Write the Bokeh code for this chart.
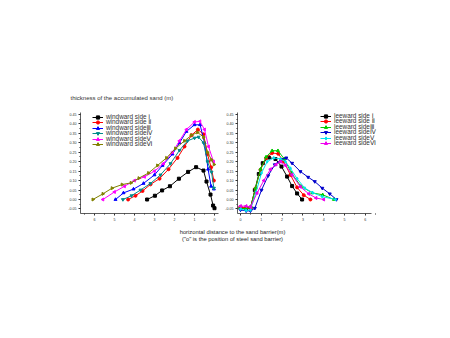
import math
from bokeh.plotting import figure
from bokeh.layouts import column, row
from bokeh.models import (Range1d, FixedTicker, PrintfTickFormatter, Legend, LegendItem, Title)
from bokeh.embed import file_html
from bokeh.resources import INLINE

FONT = "Liberation Sans"
LEG_FONT = "'Liberation Sans', 'DejaVu Sans'"

# ---------------- data ----------------
wind_labels = ["windward side \u2160", "windward side \u2161", "windward side\u2162",
               "windward side\u2163", "windward side\u2164", "windward side\u2165"]
w1_x = [3.37, 2.98, 2.62, 2.23, 1.78, 1.32, 0.92, 0.55, 0.40, 0.20, 0.07, 0.0]
w1_y = [0.0, 0.02, 0.048, 0.07, 0.11, 0.146, 0.171, 0.153, 0.095, 0.026, -0.032, -0.046]
w2_x = [4.32, 3.95, 3.6, 3.2, 2.75, 2.3, 1.85, 1.5, 1.15, 0.83, 0.55, 0.35, 0.17, 0.03]
w2_y = [0.0, 0.02, 0.045, 0.08, 0.11, 0.16, 0.22, 0.28, 0.34, 0.37, 0.345, 0.24, 0.17, 0.10]
w3_x = [4.95, 4.55, 4.05, 3.55, 3.0, 2.6, 2.1, 1.75, 1.4, 1.0, 0.72, 0.5, 0.32, 0.17, 0.03]
w3_y = [0.0, 0.035, 0.055, 0.085, 0.13, 0.18, 0.24, 0.30, 0.36, 0.395, 0.395, 0.30, 0.16, 0.07, 0.055]
w4_x = [4.58, 4.15, 3.7, 3.2, 2.7, 2.2, 1.75, 1.35, 1.0, 0.8, 0.55, 0.35, 0.15, 0.03]
w4_y = [0.0, 0.02, 0.05, 0.085, 0.13, 0.19, 0.26, 0.31, 0.325, 0.33, 0.30, 0.20, 0.145, 0.06]
w5_x = [5.58, 5.0, 4.5, 4.0, 3.5, 3.0, 2.55, 2.1, 1.75, 1.4, 1.0, 0.73, 0.5, 0.3, 0.05]
w5_y = [0.0, 0.04, 0.07, 0.10, 0.12, 0.15, 0.19, 0.25, 0.31, 0.37, 0.41, 0.413, 0.37, 0.28, 0.20]
w6_x = [6.08, 5.58, 5.12, 4.62, 4.17, 3.78, 3.3, 2.85, 2.4, 1.95, 1.5, 1.15, 0.85, 0.55, 0.35, 0.15, 0.02]
w6_y = [0.0, 0.03, 0.06, 0.079, 0.088, 0.113, 0.14, 0.18, 0.22, 0.27, 0.31, 0.34, 0.355, 0.33, 0.25, 0.21, 0.185]

lee_labels = ["leeward side \u2160", "leeward side \u2161", "leeward side\u2162",
              "leeward side\u2163", "leeward side\u2164", "leeward side\u2165"]
l1_x = [0, 0.27, 0.48, 0.69, 0.88, 1.07, 1.36, 1.68, 1.97, 2.24, 2.48, 2.72, 2.96]
l1_y = [-0.045, -0.048, -0.043, 0.05, 0.135, 0.192, 0.222, 0.214, 0.174, 0.121, 0.071, 0.032, 0.0]
l2_x = [0, 0.27, 0.48, 0.72, 0.96, 1.23, 1.52, 1.81, 2.08, 2.4, 2.72, 3.04, 3.36]
l2_y = [-0.04, -0.045, -0.045, 0.059, 0.157, 0.219, 0.246, 0.242, 0.201, 0.13, 0.064, 0.023, 0.0]
l3_x = [0, 0.25, 0.5, 0.72, 0.96, 1.23, 1.52, 1.8, 2.1, 2.45, 2.9, 3.45, 3.95, 4.49]
l3_y = [-0.045, -0.05, -0.04, 0.06, 0.16, 0.225, 0.258, 0.258, 0.215, 0.14, 0.07, 0.035, 0.025, 0.0]
l4_x = [0, 0.27, 0.48, 0.69, 1.01, 1.33, 1.65, 1.95, 2.2, 2.48, 2.88, 3.25, 3.57, 3.93, 4.29, 4.61]
l4_y = [-0.055, -0.06, -0.06, -0.046, 0.05, 0.126, 0.184, 0.212, 0.22, 0.192, 0.148, 0.118, 0.095, 0.06, 0.03, 0.0]
l5_x = [0, 0.27, 0.48, 0.75, 1.01, 1.28, 1.6, 1.92, 2.16, 2.4, 2.72, 3.09, 3.47, 3.93, 4.57]
l5_y = [-0.05, -0.058, -0.055, 0.04, 0.14, 0.2, 0.22, 0.215, 0.2, 0.165, 0.11, 0.06, 0.036, 0.015, 0.0]
l6_x = [0, 0.27, 0.48, 0.8, 1.12, 1.44, 1.71, 1.92, 2.16, 2.48, 2.88, 3.28, 3.63, 4.0]
l6_y = [-0.035, -0.035, -0.04, 0.035, 0.1, 0.16, 0.185, 0.2, 0.18, 0.13, 0.067, 0.03, 0.008, 0.0]

x_ticks = [0, 1, 2, 3, 4, 5, 6]
y_ticks = [-0.05, 0.0, 0.05, 0.10, 0.15, 0.20, 0.25, 0.30, 0.35, 0.40, 0.45]

title_text = "thickness of the accumulated sand (m)"
xlabel_1 = "horizontal distance to the sand barrier(m)"
xlabel_2 = "(\"o\" is the position of steel sand barrier)"

wind_series = [(w1_x, w1_y), (w2_x, w2_y), (w3_x, w3_y), (w4_x, w4_y), (w5_x, w5_y), (w6_x, w6_y)]
lee_series = [(l1_x, l1_y), (l2_x, l2_y), (l3_x, l3_y), (l4_x, l4_y), (l5_x, l5_y), (l6_x, l6_y)]

wind_colors = ["#000000", "#ff0000", "#0000ff", "#008b8b", "#ff00ff", "#808000"]
wind_markers = [("square", 0), ("circle", 0), ("triangle", 0), ("inverted_triangle", 0),
                ("triangle", math.pi / 2), ("triangle", -math.pi / 2)]
lee_colors = ["#000000", "#ff0000", "#00cc00", "#0000cc", "#00e5ee", "#ee00ee"]
lee_markers = [("square", 0), ("circle", 0), ("triangle", 0), ("inverted_triangle", 0),
               ("diamond", 0), ("triangle", math.pi / 2)]

Y0, Y1 = -0.074, 0.46
FRAME_H = 101        # frame height in px
ENTRY_H = 8          # legend entry height in px
ENTRY_STEP = 5.5     # distance between legend entries


def style_axes(p, xbounds):
    p.outline_line_color = None
    p.xgrid.visible = False
    p.ygrid.visible = False
    for ax in (p.xaxis[0], p.yaxis[0]):
        ax.axis_line_color = "#333333"
        ax.axis_line_width = 0.8
        ax.major_tick_in = 0
        ax.major_tick_out = 2
        ax.minor_tick_in = 0
        ax.minor_tick_out = 1
        ax.major_tick_line_color = "#333333"
        ax.minor_tick_line_color = "#333333"
        ax.major_label_text_font = FONT
        ax.major_label_text_font_size = "3.6px"
        ax.major_label_text_color = "#333333"
        ax.major_label_standoff = 2
    p.xaxis.bounds = xbounds
    p.xaxis.ticker = FixedTicker(ticks=x_ticks, minor_ticks=[t + 0.5 for t in range(-1, 7)])
    p.yaxis.ticker = FixedTicker(ticks=y_ticks,
                                 minor_ticks=[round(-0.075 + 0.025 * i, 3) for i in range(23)])
    p.yaxis.formatter = PrintfTickFormatter(format="%.2f")


def add_series(p, series, colors, markers, labels):
    items = []
    for (xs, ys), c, (m, ang), lab in zip(series, colors, markers, labels):
        r1 = p.line(xs, ys, line_color=c, line_width=1)
        r2 = p.scatter(xs, ys, marker=m, angle=ang, size=3, fill_color=c, line_color=c)
        items.append(LegendItem(label=lab, renderers=[r1, r2]))
    return items


def add_legend(p, items, x0, first_center):
    # one small legend per entry, so entries can sit closer than the text height
    for i, it in enumerate(items):
        center = first_center + i * ENTRY_STEP          # px below frame top
        ybottom = FRAME_H - center - ENTRY_H / 2
        lg = Legend(items=[it], location=(x0, ybottom))
        lg.label_text_font = LEG_FONT
        lg.label_text_font_size = "6.4px"
        lg.label_text_color = "#333333"
        lg.glyph_width = 11
        lg.glyph_height = ENTRY_H
        lg.label_height = ENTRY_H
        lg.label_standoff = 3
        lg.spacing = 0
        lg.padding = 0
        lg.margin = 0
        lg.border_line_color = None
        lg.background_fill_alpha = 0
        p.add_layout(lg, "center")


p1 = figure(width=222, height=225, x_range=Range1d(6.7, -0.2), y_range=Range1d(Y0, Y1),
            output_backend="svg", toolbar_location=None,
            min_border_left=80, min_border_right=4, min_border_top=112, min_border_bottom=12)
p1.title = Title(text=title_text, text_font=FONT, text_font_size="6px", text_font_style="normal",
                 text_color="#333333", align="left", offset=-10, standoff=23)
style_axes(p1, (-0.2, 6.7))
items1 = add_series(p1, wind_series, wind_colors, wind_markers, wind_labels)
add_legend(p1, items1, 12, 4.7)

p2 = figure(width=226, height=225, x_range=Range1d(-0.144, 7.69), y_range=Range1d(Y0, Y1),
            output_backend="svg", toolbar_location=None,
            min_border_left=15, min_border_right=48, min_border_top=112, min_border_bottom=12)
style_axes(p2, (-0.144, 6.3))
items2 = add_series(p2, lee_series, lee_colors, lee_markers, lee_labels)
add_legend(p2, items2, 83, 3.5)

p3 = figure(width=448, height=40, x_range=Range1d(0, 448), y_range=Range1d(40, 0),
            output_backend="svg", toolbar_location=None, min_border=0,
            x_axis_location=None, y_axis_location=None)
p3.outline_line_color = None
p3.xgrid.visible = False
p3.ygrid.visible = False
p3.text(x=[232, 232], y=[6, 13], text=[xlabel_1, xlabel_2], text_align="center",
        text_baseline="middle", text_font_size="5.8px", text_color="#222222",
        text_font={"value": FONT})

layout = column(row(p1, p2, spacing=0), p3, spacing=0)
open("out.html", "w").write(file_html(layout, INLINE))
